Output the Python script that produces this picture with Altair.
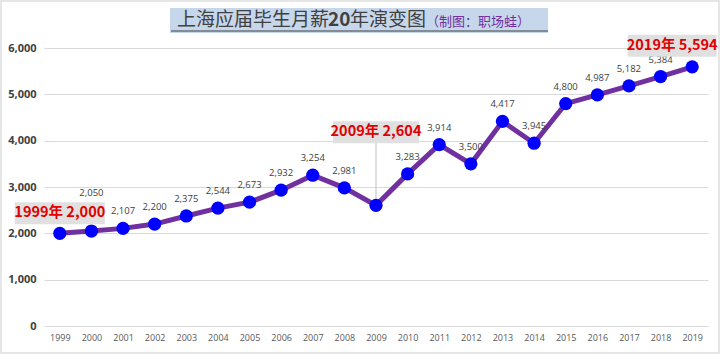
import altair as alt
import pandas as pd

years = [str(y) for y in range(1999, 2020)]
salaries = [2000, 2050, 2107, 2200, 2375, 2544, 2673, 2932, 3254, 2981, 2604,
            3283, 3914, 3500, 4417, 3945, 4800, 4987, 5182, 5384, 5594]

title_main_a = "上海应届毕生月薪"
title_main_b = "20"
title_main_c = "年演变图"
title_note = "（制图：职场蛙）"

df = pd.DataFrame({"year": years, "salary": salaries})
df["ann"] = df["year"] + "年 " + df["salary"].map(lambda v: f"{v:,}")

W, H = 664, 278
xenc = alt.X("year:O", scale=alt.Scale(type="point", padding=0.5),
             axis=alt.Axis(title=None, labelAngle=0, ticks=False, domain=False,
                           grid=False, labelFontSize=9, labelColor="#595959",
                           labelPadding=7, labelFont="Open Sans"))
yenc = alt.Y("salary:Q", scale=alt.Scale(domain=[0, 6000], nice=False),
             axis=alt.Axis(title=None, values=[0, 1000, 2000, 3000, 4000, 5000, 6000],
                           format=",d", ticks=False, domain=False, gridColor="#d9d9d9",
                           labelFontSize=11, labelColor="#404040", labelFontWeight="bold",
                           labelPadding=8, labelFont="Open Sans"))

base = alt.Chart(df).encode(x=xenc, y=yenc)

line = base.mark_line(color="#7030A0", strokeWidth=5)
pts = base.mark_circle(color="#0000FF", opacity=1, size=175)

special = ["1999", "2009", "2019", "2000"]
labels = base.mark_text(fontSize=9.5, color="#404040", dy=-17, font="Open Sans").encode(
    text=alt.Text("salary:Q", format=",")
).transform_filter(~alt.FieldOneOfPredicate(field="year", oneOf=special))
label2000 = base.mark_text(fontSize=9.5, color="#404040", dy=-38, font="Open Sans").encode(
    text=alt.Text("salary:Q", format=",")
).transform_filter(alt.FieldEqualPredicate(field="year", equal="2000"))

leader = base.mark_rule(color="#bfbfbf", strokeWidth=1).encode(
    y2=alt.value(94)
).transform_filter(alt.FieldEqualPredicate(field="year", equal="2009"))

def annot(yr, dx, dy, w):
    f = alt.FieldEqualPredicate(field="year", equal=yr)
    box = base.mark_rect(color="#e0e0e0", width=w, height=22, xOffset=dx, yOffset=dy).transform_filter(f)
    txt = base.mark_text(color="#E00000", fontSize=14.5, fontWeight="bold",
                         font="Noto Sans CJK SC", dx=dx, dy=dy).encode(
        text="ann:N").transform_filter(f)
    return box + txt

a1 = annot("1999", 0, -20, 90)
a2 = annot("2009", 0, -73, 86)
a3 = annot("2019", -20, -21, 89)

tdf = pd.DataFrame({"a": [title_main_a], "b": [title_main_b], "c": [title_main_c], "n": [title_note]})
tb = alt.Chart(tdf)
frame = tb.mark_rect(fill=None, stroke="#e6e6e6", strokeWidth=2).encode(
    x=alt.value(-43), x2=alt.value(675), y=alt.value(-47), y2=alt.value(305))
tbox = tb.mark_rect(color="#c6d7ec").encode(
    x=alt.value(126), x2=alt.value(504), y=alt.value(-40), y2=alt.value(-15))
tline = tb.mark_rule(color="#404040", strokeWidth=1).encode(
    x=alt.value(127), x2=alt.value(504), y=alt.value(-17))
t1 = tb.mark_text(align="left", baseline="middle", fontSize=19, color="#404040",
                  font="Noto Sans CJK SC").encode(x=alt.value(133), y=alt.value(-28), text="a:N")
t2 = tb.mark_text(align="left", baseline="middle", fontSize=19, color="#404040", fontWeight="bold",
                  font="Noto Sans CJK SC").encode(x=alt.value(284), y=alt.value(-28), text="b:N")
t3 = tb.mark_text(align="left", baseline="middle", fontSize=19, color="#404040",
                  font="Noto Sans CJK SC").encode(x=alt.value(306), y=alt.value(-28), text="c:N")
t4 = tb.mark_text(align="left", baseline="middle", fontSize=13, color="#7030A0",
                  font="Noto Sans CJK SC").encode(x=alt.value(382), y=alt.value(-26), text="n:N")

chart = alt.layer(
    frame, line, leader, pts, labels, label2000, a1, a2, a3,
    tbox, tline, t1, t2, t3, t4
).properties(
    width=W, height=H,
    autosize=alt.AutoSizeParams(type="none"),
    padding={"left": 44, "top": 48, "right": 12, "bottom": 28},
    background="white"
).configure_view(stroke=None)

chart.save("out.html", embed_options={"renderer": "svg", "actions": False})
